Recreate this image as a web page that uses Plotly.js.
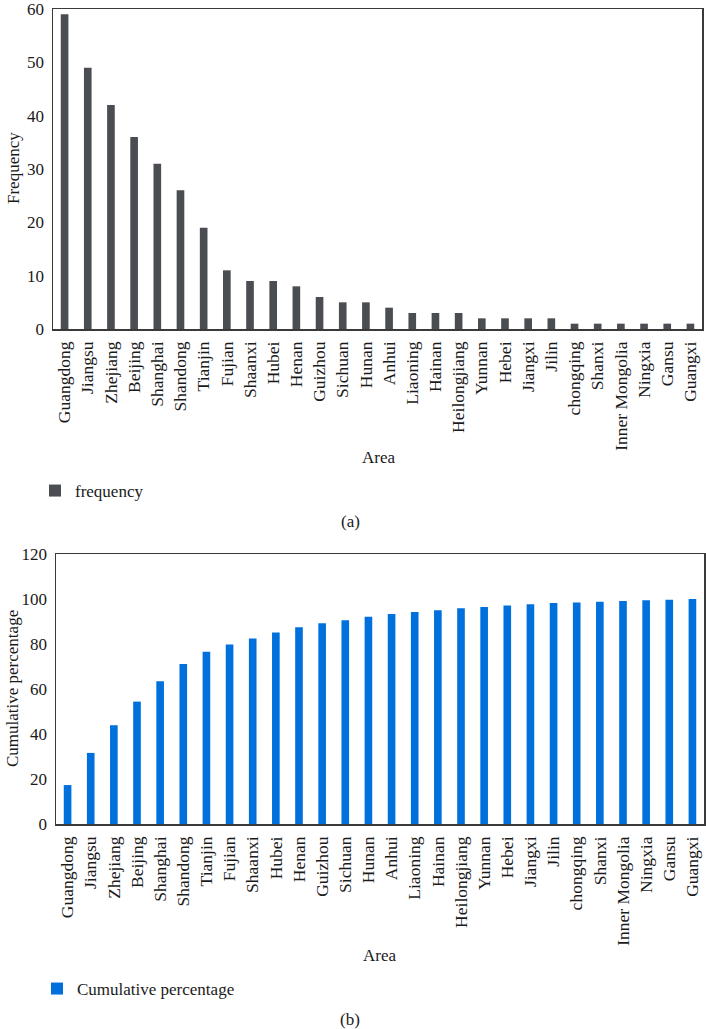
<!DOCTYPE html>
<html>
<head>
<meta charset="utf-8">
<script src="https://cdn.plot.ly/plotly-3.0.1.min.js"></script>
<style>html,body{margin:0;padding:0;background:#fff;}#chart{width:706px;height:1029px;}</style>
</head>
<body>
<div id="chart"></div>
<script>
const areas = ["Guangdong","Jiangsu","Zhejiang","Beijing","Shanghai","Shandong","Tianjin","Fujian","Shaanxi","Hubei","Henan","Guizhou","Sichuan","Hunan","Anhui","Liaoning","Hainan","Heilongjiang","Yunnan","Hebei","Jiangxi","Jilin","chongqing","Shanxi","Inner Mongolia","Ningxia","Gansu","Guangxi"];
const frequency = [59,49,42,36,31,26,19,11,9,9,8,6,5,5,4,3,3,3,2,2,2,2,1,1,1,1,1,1];
const cumulativePct = [17.3,31.6,43.9,54.4,63.5,71.1,76.6,79.8,82.5,85.1,87.4,89.2,90.6,92.1,93.3,94.2,95.0,95.9,96.5,97.1,97.7,98.2,98.5,98.8,99.1,99.4,99.7,100];
const freqTicks = [0,10,20,30,40,50,60];
const cumTicks = [0,20,40,60,80,100,120];

const FONT = "Liberation Serif, Times New Roman, serif";
const TXT = "#1a1a1a";
const FS = 17;
const XFS = 17.5;

const traces = [
  {type:"bar", x:areas, y:frequency, name:"frequency", xaxis:"x", yaxis:"y",
   marker:{color:"#4a4d51"}, legend:"legend"},
  {type:"bar", x:areas, y:cumulativePct, name:"Cumulative percentage", xaxis:"x2", yaxis:"y2",
   marker:{color:"#0070dd"}, legend:"legend2"}
];

const axisCommon = {
  showline:true, mirror:true, linecolor:"#3a3a3a", linewidth:1.5,
  showgrid:false, zeroline:false, ticklabeloverflow:"allow",
  tickfont:{family:FONT, size:FS, color:TXT}
};
const xFont = {family:FONT, size:XFS, color:TXT};

const annFont = {family:FONT, size:FS, color:TXT};
function ann(text, px, py, angle){
  return {text:text, xref:"paper", yref:"paper", x:px/706, y:1-py/1029, xanchor:"center", yanchor:"middle",
          textangle:angle||0, showarrow:false, font:annFont};
}

const layout = {
  width:706, height:1029,
  margin:{l:0,r:0,t:0,b:0},
  paper_bgcolor:"#fff", plot_bgcolor:"#fff",
  font:{family:FONT, size:FS, color:TXT},
  bargap:0.67,
  showlegend:true,
  xaxis:Object.assign({}, axisCommon, {domain:[53/706, 702/706], anchor:"y", tickangle:-90, tickfont:xFont,
     ticks:"outside", ticklen:4, tickcolor:"rgba(0,0,0,0)", type:"category"}),
  yaxis:Object.assign({}, axisCommon, {domain:[1-329/1029, 1-9/1029], anchor:"x", range:[0,60],
     tickvals:freqTicks, ticks:"outside", ticklen:4, tickcolor:"rgba(0,0,0,0)"}),
  xaxis2:Object.assign({}, axisCommon, {domain:[56/706, 704/706], anchor:"y2", tickangle:-90, tickfont:xFont,
     ticks:"outside", ticklen:4, tickcolor:"rgba(0,0,0,0)", type:"category"}),
  yaxis2:Object.assign({}, axisCommon, {domain:[1-824/1029, 1-554/1029], anchor:"x2", range:[0,120],
     tickvals:cumTicks, ticks:"outside", ticklen:4, tickcolor:"rgba(0,0,0,0)"}),
  legend:{x:35/706, y:1-491/1029, xanchor:"left", yanchor:"middle", bgcolor:"rgba(0,0,0,0)",
     font:{family:FONT, size:FS, color:TXT}, itemwidth:30},
  legend2:{x:37/706, y:1-989/1029, xanchor:"left", yanchor:"middle", bgcolor:"rgba(0,0,0,0)",
     font:{family:FONT, size:FS, color:TXT}, itemwidth:30},
  annotations:[
    ann("Frequency", 14, 168, -90),
    ann("Area", 378, 458),
    ann("(a)", 350, 521),
    ann("Cumulative percentage", 12, 689, -90),
    ann("Area", 380, 955),
    ann("(b)", 350, 1019)
  ]
};

Plotly.newPlot("chart", traces, layout, {staticPlot:true, displayModeBar:false});
</script>
</body>
</html>
